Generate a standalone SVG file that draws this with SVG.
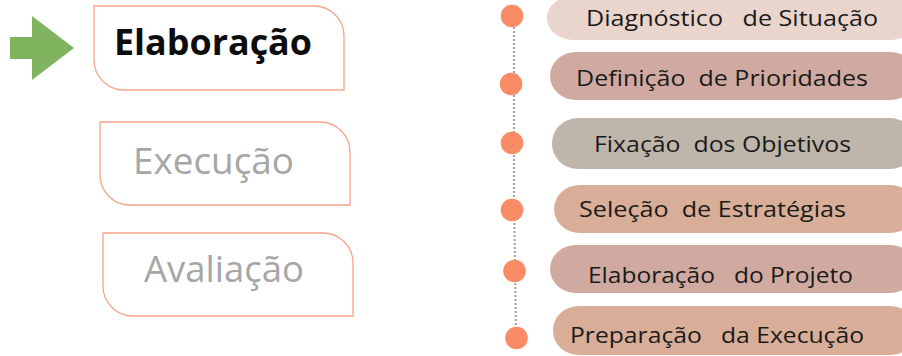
<svg xmlns="http://www.w3.org/2000/svg" width="902" height="356" viewBox="0 0 902 356">
  <style>
    .phase { fill: #ffffff; stroke: #f7a58a; stroke-width: 1.3; }
    .phase-on { font-family: "Open Sans", "Liberation Sans", sans-serif; font-weight: 700; font-size: 35px; fill: #0d0d0d; }
    .phase-off { font-family: "Open Sans", "Liberation Sans", sans-serif; font-weight: 400; font-size: 36px; fill: #a6a6a6; }
    .dot { fill: #f98b67; }
    .step-label { font-family: "Open Sans", "Liberation Sans", sans-serif; font-size: 22px; fill: #1a1a1a; white-space: pre; }
    .timeline { stroke: #aaa59f; stroke-width: 2.2; stroke-dasharray: 2 2; fill: none; }
  </style>

  <!-- current phase pointer -->
  <polygon id="pointer" points="10,37 32,37 32,16 74,48 32,80 32,59 10,59" fill="#80b45f"/>

  <!-- phases -->
  <g id="phase-elaboracao">
    <path class="phase" d="M94,6 H314 A30,30 0 0 1 344,36 V90 H124 A30,30 0 0 1 94,60 Z"/>
    <text class="phase-on" x="114" y="55" textLength="198" lengthAdjust="spacingAndGlyphs">Elaboração</text>
  </g>
  <g id="phase-execucao">
    <path class="phase" d="M100,122 H320 A30,30 0 0 1 350,152 V205 H130 A30,30 0 0 1 100,175 Z"/>
    <text class="phase-off" x="133" y="174" textLength="161" lengthAdjust="spacingAndGlyphs">Execução</text>
  </g>
  <g id="phase-avaliacao">
    <path class="phase" d="M103,233 H323 A30,30 0 0 1 353,263 V316 H133 A30,30 0 0 1 103,286 Z"/>
    <text class="phase-off" x="144" y="282" textLength="160" lengthAdjust="spacingAndGlyphs">Avaliação</text>
  </g>

  <!-- connectors -->
  <g id="connectors">
    <path class="timeline" d="M514,27 L514,200 L516,330"/>
  </g>

  <!-- steps -->
  <g id="step-1">
    <rect x="547" y="-4" width="370" height="44" rx="26" ry="22" fill="#e9d5cb"/>
    <circle class="dot" cx="512" cy="16" r="11.3"/>
    <text class="step-label" x="586" y="26" textLength="292" lengthAdjust="spacingAndGlyphs">Diagnóstico   de Situação</text>
  </g>
  <g id="step-2">
    <rect x="550" y="52" width="366" height="48" rx="26" ry="24" fill="#d0aaa0"/>
    <circle class="dot" cx="511" cy="84" r="11.3"/>
    <text class="step-label" x="576" y="86" textLength="292" lengthAdjust="spacingAndGlyphs">Definição  de Prioridades</text>
  </g>
  <g id="step-3">
    <rect x="552" y="118" width="364" height="51" rx="26" ry="25" fill="#bfb5ab"/>
    <circle class="dot" cx="512" cy="143" r="11.3"/>
    <text class="step-label" x="594" y="152" textLength="257" lengthAdjust="spacingAndGlyphs">Fixação  dos Objetivos</text>
  </g>
  <g id="step-4">
    <rect x="554" y="185" width="362" height="48" rx="26" ry="24" fill="#d8ae98"/>
    <circle class="dot" cx="512" cy="210" r="11.3"/>
    <text class="step-label" x="579" y="217" textLength="267" lengthAdjust="spacingAndGlyphs">Seleção  de Estratégias</text>
  </g>
  <g id="step-5">
    <rect x="550" y="245" width="366" height="48" rx="26" ry="24" fill="#d0aaa0"/>
    <circle class="dot" cx="514.5" cy="271" r="11.3"/>
    <text class="step-label" x="588" y="283" textLength="265" lengthAdjust="spacingAndGlyphs">Elaboração   do Projeto</text>
  </g>
  <g id="step-6">
    <rect x="553" y="306" width="363" height="49" rx="26" ry="24" fill="#d8ae98"/>
    <circle class="dot" cx="516.5" cy="338" r="11.3"/>
    <text class="step-label" x="570" y="343" textLength="294" lengthAdjust="spacingAndGlyphs">Preparação   da Execução</text>
  </g>
</svg>
